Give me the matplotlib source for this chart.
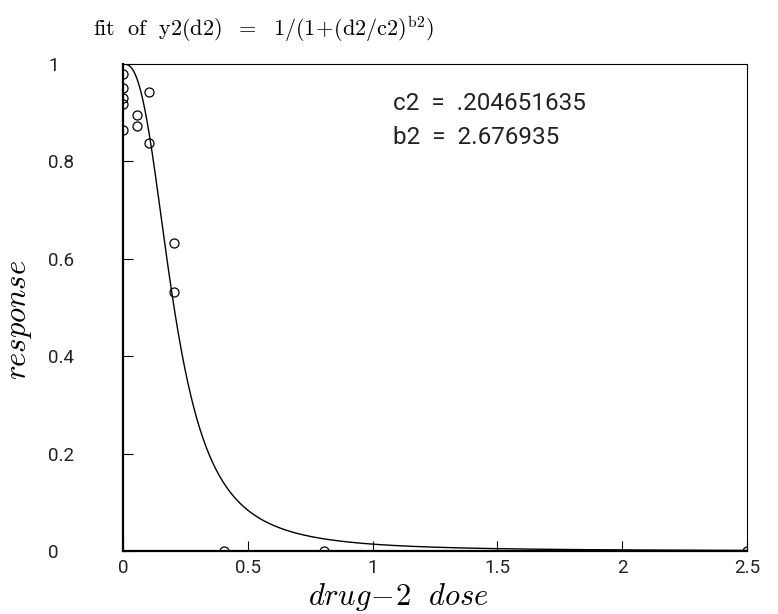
import numpy as np
import matplotlib
matplotlib.use("Agg")
import matplotlib.pyplot as plt

plt.rcParams['mathtext.fontset'] = 'cm'

# data
dose = [0, 0, 0, 0, 0, 0.057, 0.057, 0.105, 0.105, 0.206, 0.206, 0.406, 0.805, 2.5]
resp = [0.979, 0.950, 0.930, 0.917, 0.864, 0.895, 0.873, 0.943, 0.838, 0.632, 0.532, 0.0, 0.0, 0.0]
c2 = 0.204651635
b2 = 2.676935
xticks = [0, 0.5, 1, 1.5, 2, 2.5]
xticklabels = ['0', '0.5', '1', '1.5', '2', '2.5']
yticks = [0, 0.2, 0.4, 0.6, 0.8, 1]
yticklabels = ['0', '0.2', '0.4', '0.6', '0.8', '1']

W, H = 778, 614
fig = plt.figure(figsize=(W / 100, H / 100), dpi=100)
ax = fig.add_axes([123 / W, (H - 551) / H, (747 - 123) / W, (551 - 64) / H])

d = np.linspace(0, 2.5, 600)
fit = 1.0 / (1.0 + (d / c2) ** b2)
ax.plot(d, fit, color='black', lw=1.0)
ax.plot(dose, resp, linestyle='none', marker='o', markersize=6.5,
        markerfacecolor='none', markeredgecolor='black', markeredgewidth=0.9)

ax.set_xlim(0, 2.5)
ax.set_ylim(0, 1)

for s in ['top', 'right']:
    ax.spines[s].set_linewidth(0.8)
for s in ['left', 'bottom']:
    ax.spines[s].set_linewidth(1.6)

tickfont = dict(family=['Roboto', 'DejaVu Sans'], weight='normal', size=13.5,
                color='#222222')
ax.set_xticks(xticks)
ax.set_xticklabels(xticklabels, **tickfont)
ax.set_yticks(yticks)
ax.set_yticklabels(yticklabels, **tickfont)
for lab in ax.get_yticklabels():
    lab.set_horizontalalignment('left')
ax.tick_params(axis='x', direction='in', length=7, width=0.8, pad=6, top=False)
ax.tick_params(axis='y', direction='in', length=7, width=0.8, pad=54, right=False)

annfont = dict(family=['Roboto', 'DejaVu Sans'], weight='normal', size=17.5,
               color='#222222')
fig.text(393 / W, 1 - 103 / H, 'c2  =  .204651635', ha='left', va='center', **annfont)
fig.text(393 / W, 1 - 138 / H, 'b2  =  2.676935', ha='left', va='center', **annfont)

fig.text(93 / W, 1 - 36 / H,
         r'$\mathrm{fit\ \ of\ \ y2(d2)\ \ =\ \ 1/(1\!+\!(d2/c2)^{b2})}$',
         ha='left', va='baseline', size=16)
fig.text(308 / W, 1 - 597 / H, r'$drug\!-\!2\ \ dose$', ha='left', va='center', size=22)
fig.text(20 / W, 1 - 320 / H, r'$response$', ha='center', va='center', size=22,
         rotation=90)

fig.savefig('out.png', dpi=100)
